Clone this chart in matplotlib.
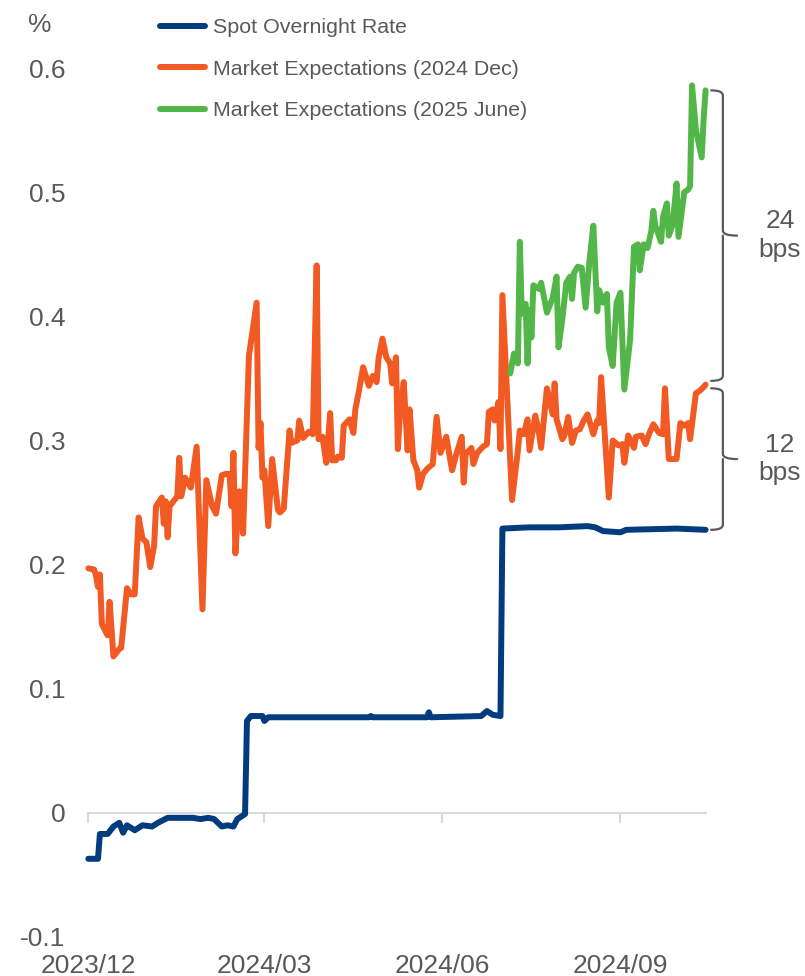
import matplotlib
matplotlib.use("Agg")
import matplotlib.pyplot as plt
import matplotlib.dates as mdates
from matplotlib.path import Path
from matplotlib.patches import PathPatch
from matplotlib.transforms import blended_transform_factory
import pandas as pd

# =====================
# data
# =====================
spot_dates = [
    "2023-12-01", "2023-12-06", "2023-12-07", "2023-12-11", "2023-12-14", "2023-12-17",
    "2023-12-19", "2023-12-21", "2023-12-25", "2023-12-29", "2024-01-03", "2024-01-06",
    "2024-01-11", "2024-01-17", "2024-01-24", "2024-01-28", "2024-02-01", "2024-02-04",
    "2024-02-08", "2024-02-11", "2024-02-14", "2024-02-16", "2024-02-20", "2024-02-21",
    "2024-02-23", "2024-02-29", "2024-03-01", "2024-03-03", "2024-03-20", "2024-04-24",
    "2024-04-25", "2024-04-26", "2024-05-24", "2024-05-25", "2024-05-26", "2024-06-21",
    "2024-06-24", "2024-06-27", "2024-07-01", "2024-07-02", "2024-07-16", "2024-07-31",
    "2024-08-15", "2024-08-19", "2024-08-23", "2024-09-01", "2024-09-04", "2024-09-30",
    "2024-10-15",
]
spot_rate = [
    -0.037, -0.037, -0.017, -0.017, -0.011, -0.008,
    -0.016, -0.010, -0.014, -0.010, -0.011, -0.008,
    -0.004, -0.004, -0.004, -0.005, -0.004, -0.005,
    -0.011, -0.010, -0.011, -0.005, -0.001, 0.074,
    0.078, 0.078, 0.074, 0.077, 0.077, 0.077,
    0.078, 0.077, 0.077, 0.081, 0.077, 0.078,
    0.082, 0.079, 0.078, 0.229, 0.230, 0.230,
    0.231, 0.230, 0.227, 0.226, 0.228, 0.229,
    0.228,
]

dec24_dates = [
    "2023-12-01", "2023-12-04", "2023-12-05", "2023-12-06", "2023-12-07", "2023-12-08",
    "2023-12-11", "2023-12-12", "2023-12-14", "2023-12-17", "2023-12-18", "2023-12-21",
    "2023-12-23", "2023-12-25", "2023-12-27", "2023-12-29", "2023-12-31", "2024-01-02",
    "2024-01-04", "2024-01-05", "2024-01-08", "2024-01-09", "2024-01-10", "2024-01-11",
    "2024-01-12", "2024-01-16", "2024-01-17", "2024-01-18", "2024-01-20", "2024-01-23",
    "2024-01-26", "2024-01-27", "2024-01-29", "2024-01-31", "2024-02-03", "2024-02-05",
    "2024-02-08", "2024-02-10", "2024-02-12", "2024-02-13", "2024-02-14", "2024-02-15",
    "2024-02-17", "2024-02-19", "2024-02-22", "2024-02-26", "2024-02-27", "2024-02-28",
    "2024-02-29", "2024-03-01", "2024-03-03", "2024-03-05", "2024-03-08", "2024-03-09",
    "2024-03-11", "2024-03-14", "2024-03-15", "2024-03-18", "2024-03-19", "2024-03-21",
    "2024-03-24", "2024-03-26", "2024-03-28", "2024-03-29", "2024-03-31", "2024-04-02",
    "2024-04-04", "2024-04-05", "2024-04-07", "2024-04-08", "2024-04-10", "2024-04-11",
    "2024-04-14", "2024-04-16", "2024-04-17", "2024-04-19", "2024-04-21", "2024-04-24",
    "2024-04-26", "2024-04-28", "2024-04-29", "2024-05-01", "2024-05-03", "2024-05-05",
    "2024-05-06", "2024-05-08", "2024-05-09", "2024-05-10", "2024-05-12", "2024-05-14",
    "2024-05-15", "2024-05-17", "2024-05-19", "2024-05-20", "2024-05-22", "2024-05-24",
    "2024-05-27", "2024-05-29", "2024-05-31", "2024-06-03", "2024-06-06", "2024-06-08",
    "2024-06-11", "2024-06-12", "2024-06-13", "2024-06-16", "2024-06-17", "2024-06-19",
    "2024-06-22", "2024-06-24", "2024-06-25", "2024-06-27", "2024-06-28", "2024-06-30",
    "2024-07-01", "2024-07-02", "2024-07-07", "2024-07-10", "2024-07-11", "2024-07-13",
    "2024-07-15", "2024-07-16", "2024-07-19", "2024-07-21", "2024-07-22", "2024-07-25",
    "2024-07-28", "2024-07-29", "2024-07-30", "2024-08-02", "2024-08-03", "2024-08-05",
    "2024-08-07", "2024-08-09", "2024-08-11", "2024-08-13", "2024-08-15", "2024-08-18",
    "2024-08-20", "2024-08-21", "2024-08-22", "2024-08-26", "2024-08-28", "2024-08-31",
    "2024-09-02", "2024-09-03", "2024-09-05", "2024-09-08", "2024-09-09", "2024-09-12",
    "2024-09-14", "2024-09-16", "2024-09-18", "2024-09-21", "2024-09-23", "2024-09-24",
    "2024-09-26", "2024-09-30", "2024-10-02", "2024-10-04", "2024-10-06", "2024-10-07",
    "2024-10-10", "2024-10-12", "2024-10-14", "2024-10-15",
]
dec24_exp = [
    0.197, 0.196, 0.191, 0.182, 0.192, 0.152,
    0.143, 0.170, 0.126, 0.132, 0.133, 0.181,
    0.176, 0.176, 0.238, 0.221, 0.218, 0.198,
    0.215, 0.247, 0.254, 0.233, 0.251, 0.222,
    0.247, 0.255, 0.286, 0.255, 0.270, 0.262,
    0.295, 0.250, 0.164, 0.268, 0.247, 0.241,
    0.272, 0.273, 0.273, 0.247, 0.290, 0.209,
    0.259, 0.225, 0.368, 0.411, 0.294, 0.314,
    0.270, 0.276, 0.231, 0.285, 0.244, 0.242,
    0.245, 0.308, 0.298, 0.300, 0.316, 0.302,
    0.307, 0.305, 0.441, 0.301, 0.303, 0.282,
    0.322, 0.284, 0.284, 0.287, 0.286, 0.312,
    0.317, 0.306, 0.325, 0.341, 0.359, 0.344,
    0.352, 0.347, 0.366, 0.382, 0.367, 0.362,
    0.346, 0.367, 0.293, 0.321, 0.347, 0.292,
    0.325, 0.284, 0.276, 0.262, 0.273, 0.277,
    0.281, 0.319, 0.290, 0.303, 0.276, 0.288,
    0.303, 0.266, 0.289, 0.294, 0.281, 0.290,
    0.295, 0.297, 0.323, 0.325, 0.316, 0.331,
    0.293, 0.417, 0.252, 0.292, 0.308, 0.305,
    0.317, 0.292, 0.320, 0.305, 0.294, 0.342,
    0.321, 0.346, 0.317, 0.301, 0.304, 0.319,
    0.298, 0.308, 0.309, 0.316, 0.321, 0.305,
    0.316, 0.314, 0.351, 0.254, 0.300, 0.296,
    0.297, 0.282, 0.304, 0.294, 0.303, 0.304,
    0.297, 0.306, 0.313, 0.306, 0.305, 0.342,
    0.285, 0.285, 0.314, 0.312, 0.314, 0.301,
    0.338, 0.340, 0.343, 0.345,
]

jun25_dates = [
    "2024-07-06", "2024-07-08", "2024-07-10", "2024-07-11", "2024-07-12", "2024-07-14",
    "2024-07-15", "2024-07-16", "2024-07-17", "2024-07-18", "2024-07-21", "2024-07-22",
    "2024-07-25", "2024-07-28", "2024-07-30", "2024-07-31", "2024-08-02", "2024-08-04",
    "2024-08-06", "2024-08-07", "2024-08-08", "2024-08-10", "2024-08-12", "2024-08-14",
    "2024-08-16", "2024-08-18", "2024-08-20", "2024-08-21", "2024-08-23", "2024-08-25",
    "2024-08-26", "2024-08-28", "2024-08-30", "2024-09-01", "2024-09-03", "2024-09-06",
    "2024-09-08", "2024-09-10", "2024-09-11", "2024-09-13", "2024-09-15", "2024-09-17",
    "2024-09-18", "2024-09-19", "2024-09-22", "2024-09-23", "2024-09-25", "2024-09-26",
    "2024-09-28", "2024-09-30", "2024-10-01", "2024-10-04", "2024-10-06", "2024-10-07",
    "2024-10-08", "2024-10-10", "2024-10-13", "2024-10-14", "2024-10-15",
]
jun25_exp = [
    0.354, 0.370, 0.362, 0.460, 0.402, 0.410,
    0.362, 0.405, 0.383, 0.425, 0.422, 0.427,
    0.403, 0.415, 0.432, 0.375, 0.398, 0.427,
    0.432, 0.414, 0.435, 0.440, 0.439, 0.407,
    0.445, 0.473, 0.404, 0.421, 0.411, 0.418,
    0.375, 0.360, 0.411, 0.419, 0.341, 0.381,
    0.456, 0.458, 0.437, 0.458, 0.455, 0.469,
    0.485, 0.473, 0.460, 0.480, 0.491, 0.465,
    0.474, 0.507, 0.464, 0.500, 0.502, 0.505,
    0.586, 0.550, 0.528, 0.559, 0.582,
]

tick_dates = ["2023-12-01", "2024-03-01", "2024-06-01", "2024-09-01"]
tick_labels = ["2023/12", "2024/03", "2024/06", "2024/09"]
y_ticks = [-0.1, 0, 0.1, 0.2, 0.3, 0.4, 0.5, 0.6]

BLUE = "#033B7F"
ORANGE = "#F15A22"
GREEN = "#52B748"
TEXT = "#595959"
AXIS = "#D9D9D9"
BRACE = "#595959"

plt.rcParams["font.family"] = ["Liberation Sans", "DejaVu Sans"]


def draw_brace(ax, y_top, y_bot, x0=1.009, x1=1.028, x2=1.051):
    """Right-pointing curly brace, x in axes fraction, y in data units."""
    trans = blended_transform_factory(ax.transAxes, ax.transData)
    y_mid = (y_top + y_bot) / 2
    ry = 0.004
    verts = [
        (x0, y_top), (x1, y_top), (x1, y_top - ry),
        (x1, y_mid + ry), (x1, y_mid), (x2, y_mid),
        (x1, y_mid), (x1, y_mid), (x1, y_mid - ry),
        (x1, y_bot + ry), (x1, y_bot), (x0, y_bot),
    ]
    codes = [
        Path.MOVETO, Path.CURVE3, Path.CURVE3,
        Path.LINETO, Path.CURVE3, Path.CURVE3,
        Path.MOVETO, Path.CURVE3, Path.CURVE3,
        Path.LINETO, Path.CURVE3, Path.CURVE3,
    ]
    patch = PathPatch(Path(verts, codes), transform=trans, fill=False,
                      edgecolor=BRACE, lw=1.6, clip_on=False,
                      capstyle="round", joinstyle="round")
    ax.add_patch(patch)
    return y_mid


def main():
    spot_x = pd.to_datetime(spot_dates)
    dec_x = pd.to_datetime(dec24_dates)
    jun_x = pd.to_datetime(jun25_dates)

    fig = plt.figure(figsize=(8.05, 9.76), dpi=100)
    ax = fig.add_axes([0.1097, 0.03996, 0.7668, 0.9285])

    line_kw = dict(lw=4.3, solid_joinstyle="round", solid_capstyle="round",
                   clip_on=False)
    l1, = ax.plot(spot_x, spot_rate, color=BLUE, label="Spot Overnight Rate", **line_kw)
    l2, = ax.plot(dec_x, dec24_exp, color=ORANGE, label="Market Expectations (2024 Dec)", **line_kw)
    l3, = ax.plot(jun_x, jun25_exp, color=GREEN, label="Market Expectations (2025 June)", **line_kw)

    ax.set_xlim(spot_x[0], spot_x[-1])
    ax.set_ylim(-0.1, 0.63)

    # x axis line sits at zero, labels at the bottom
    for side in ["top", "right", "left"]:
        ax.spines[side].set_visible(False)
    ax.spines["bottom"].set_position(("data", 0))
    ax.spines["bottom"].set_color(AXIS)
    ax.spines["bottom"].set_linewidth(1.5)
    ax.spines["bottom"].set_zorder(0)

    ticks = pd.to_datetime(tick_dates)
    ax.set_xticks(ticks)
    ax.tick_params(axis="x", direction="out", length=7, width=1.5,
                   color=AXIS, labelbottom=False)

    sec = ax.secondary_xaxis("bottom")
    sec.set_xticks(mdates.date2num(ticks), tick_labels)
    sec.spines["bottom"].set_visible(False)
    sec.tick_params(axis="x", length=0, pad=12, labelsize=19, labelcolor=TEXT)

    ax.set_yticks(y_ticks)
    ax.set_yticklabels(["0" if v == 0 else f"{v:.1f}" for v in y_ticks])
    ax.tick_params(axis="y", length=0, pad=16.5, labelsize=19, labelcolor=TEXT)

    fig.text(28 / 805, 1 - 25 / 976, "%", fontsize=19, color=TEXT,
             ha="left", va="center")

    leg = ax.legend(handles=[l1, l2, l3], loc="upper left",
                    bbox_to_anchor=(160 / 805, 1 - 18 / 976),
                    bbox_transform=fig.transFigure, frameon=False,
                    fontsize=15.4, handlelength=2.1, handletextpad=0.38,
                    labelspacing=1.06, borderpad=0, borderaxespad=0)
    for t in leg.get_texts():
        t.set_color(TEXT)

    # spreads at the latest date
    g_last, o_last, s_last = jun25_exp[-1], dec24_exp[-1], spot_rate[-1]
    gap = 0.003
    mid1 = draw_brace(ax, g_last, o_last + gap)
    mid2 = draw_brace(ax, o_last - gap, s_last)
    bps1 = round((g_last - o_last) * 100)
    bps2 = round((o_last - s_last) * 100)
    trans = blended_transform_factory(ax.transAxes, ax.transData)
    for mid, bps in [(mid1, bps1), (mid2, bps2)]:
        ax.text(1.1205, mid, f"{bps}\nbps", transform=trans, fontsize=19,
                color=TEXT, ha="center", va="center", linespacing=1.25)

    fig.savefig("out.png", dpi=100)


if __name__ == "__main__":
    main()
